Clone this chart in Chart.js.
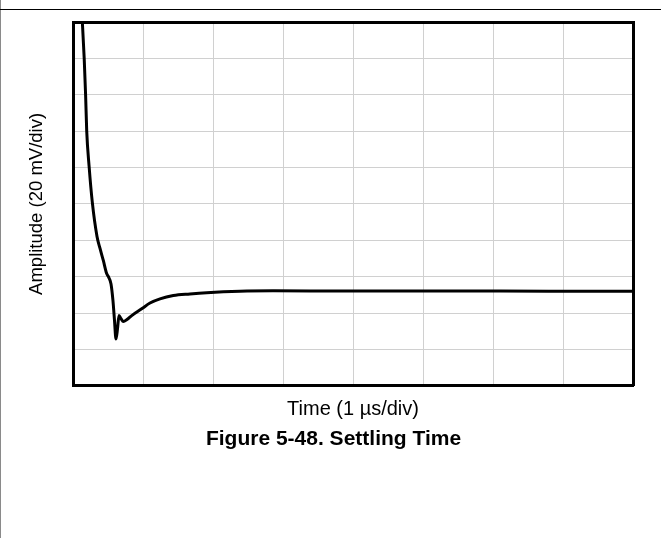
<!DOCTYPE html>
<html>
<head>
<meta charset="utf-8">
<script src="https://cdn.jsdelivr.net/npm/chart.js@4/dist/chart.umd.min.js"></script>
<style>
  html, body { margin: 0; padding: 0; background: #fff; }
  .page { position: relative; width: 661px; height: 538px; overflow: hidden; }
  .edge-left { position: absolute; left: 0; top: 0; width: 1px; height: 538px; background: #8a8a8a; }
  .edge-top { position: absolute; left: 0; top: 9px; width: 661px; height: 1px; background: #000; }
  canvas { position: absolute; left: 0; top: 0; }
</style>
</head>
<body>
<div class="page">
  <canvas id="settling" width="661" height="538"></canvas>
  <div class="edge-left"></div>
  <div class="edge-top"></div>
</div>
<script>
'use strict';

// settling waveform: time in µs, amplitude in mV (20 mV/div)
const timeUs = [0.125, 0.16, 0.18, 0.196, 0.23, 0.276, 0.343, 0.386, 0.433, 0.481, 0.504,
  0.543, 0.571, 0.593, 0.614, 0.636, 0.657, 0.686, 0.719, 0.771, 0.839, 0.981, 1.1,
  1.243, 1.433, 1.671, 1.91, 2.386, 2.857, 3.957, 5.386, 6.814, 7.986];
const amplitudeMv = [206, 180, 160, 140, 120.7, 100.8, 82.1, 75.5, 68.9, 61.7, 60.1,
  56, 46.8, 35.8, 25.7, 31.4, 38.6, 36.9, 35.3, 36.4, 38.6, 42.3, 45.5,
  47.8, 49.6, 50.5, 51.2, 52, 52.2, 52.1, 52.1, 52, 52];

// scope grid: 8 time divisions, 10 amplitude divisions
const timeRange = [0, 8];
const amplitudeRange = [0, 200];
const xTitle = 'Time (1 µs/div)';
const yTitle = 'Amplitude (20 mV/div)';
const caption = 'Figure 5-48. Settling Time';

const fontFamily = "'Liberation Sans', Arial, sans-serif";
const gridColor = '#d0d0d0';

let points = timeUs.map((t, i) => ({ x: t, y: amplitudeMv[i] }));

// hidden helper axes just to get a frame on top / right
function frameAxis(position, min, max) {
  return {
    type: 'linear',
    position: position,
    min: min,
    max: max,
    ticks: { display: false },
    grid: { display: false, drawTicks: false },
    border: { display: true, color: '#000', width: 3 },
    afterFit: (scale) => {
      if (position === 'top') scale.height = 0;
      else scale.width = 0;
    }
  };
}

let ctx = document.getElementById('settling');
let chart = new Chart(ctx, {
  type: 'line',
  data: {
    datasets: [{
      data: points,
      borderColor: '#000',
      borderWidth: 3,
      pointRadius: 0,
      cubicInterpolationMode: 'monotone',
      fill: false
    }]
  },
  options: {
    responsive: false,
    animation: false,
    devicePixelRatio: 1,
    // left padding shifts the caption's centre to the right a bit
    layout: { padding: { top: 22, right: 28, bottom: 86, left: 34 } },
    plugins: {
      legend: { display: false },
      tooltip: { enabled: false },
      title: {
        display: true,
        position: 'bottom',
        text: caption,
        color: '#000',
        font: { family: fontFamily, size: 21, weight: 'bold' },
        padding: { top: 5, bottom: 0 }
      }
    },
    scales: {
      x: {
        type: 'linear',
        min: timeRange[0],
        max: timeRange[1],
        ticks: { display: false, stepSize: 1 },
        grid: { color: gridColor, lineWidth: 1, drawTicks: false },
        border: { display: true, color: '#000', width: 3 },
        title: {
          display: true,
          text: xTitle,
          color: '#000',
          font: { family: fontFamily, size: 20 },
          padding: { top: 0, bottom: 0 }
        },
        afterFit: (scale) => { scale.height = 36; }
      },
      y: {
        type: 'linear',
        min: amplitudeRange[0],
        max: amplitudeRange[1],
        ticks: { display: false, stepSize: 20 },
        grid: { color: gridColor, lineWidth: 1, drawTicks: false },
        border: { display: true, color: '#000', width: 3 },
        title: {
          display: true,
          text: yTitle,
          color: '#000',
          font: { family: fontFamily, size: 18.5 },
          padding: { top: -8, bottom: 0 }
        },
        afterFit: (scale) => { scale.width = 39; }
      },
      x2: frameAxis('top', timeRange[0], timeRange[1]),
      y2: frameAxis('right', amplitudeRange[0], amplitudeRange[1])
    }
  }
});
</script>
</body>
</html>
